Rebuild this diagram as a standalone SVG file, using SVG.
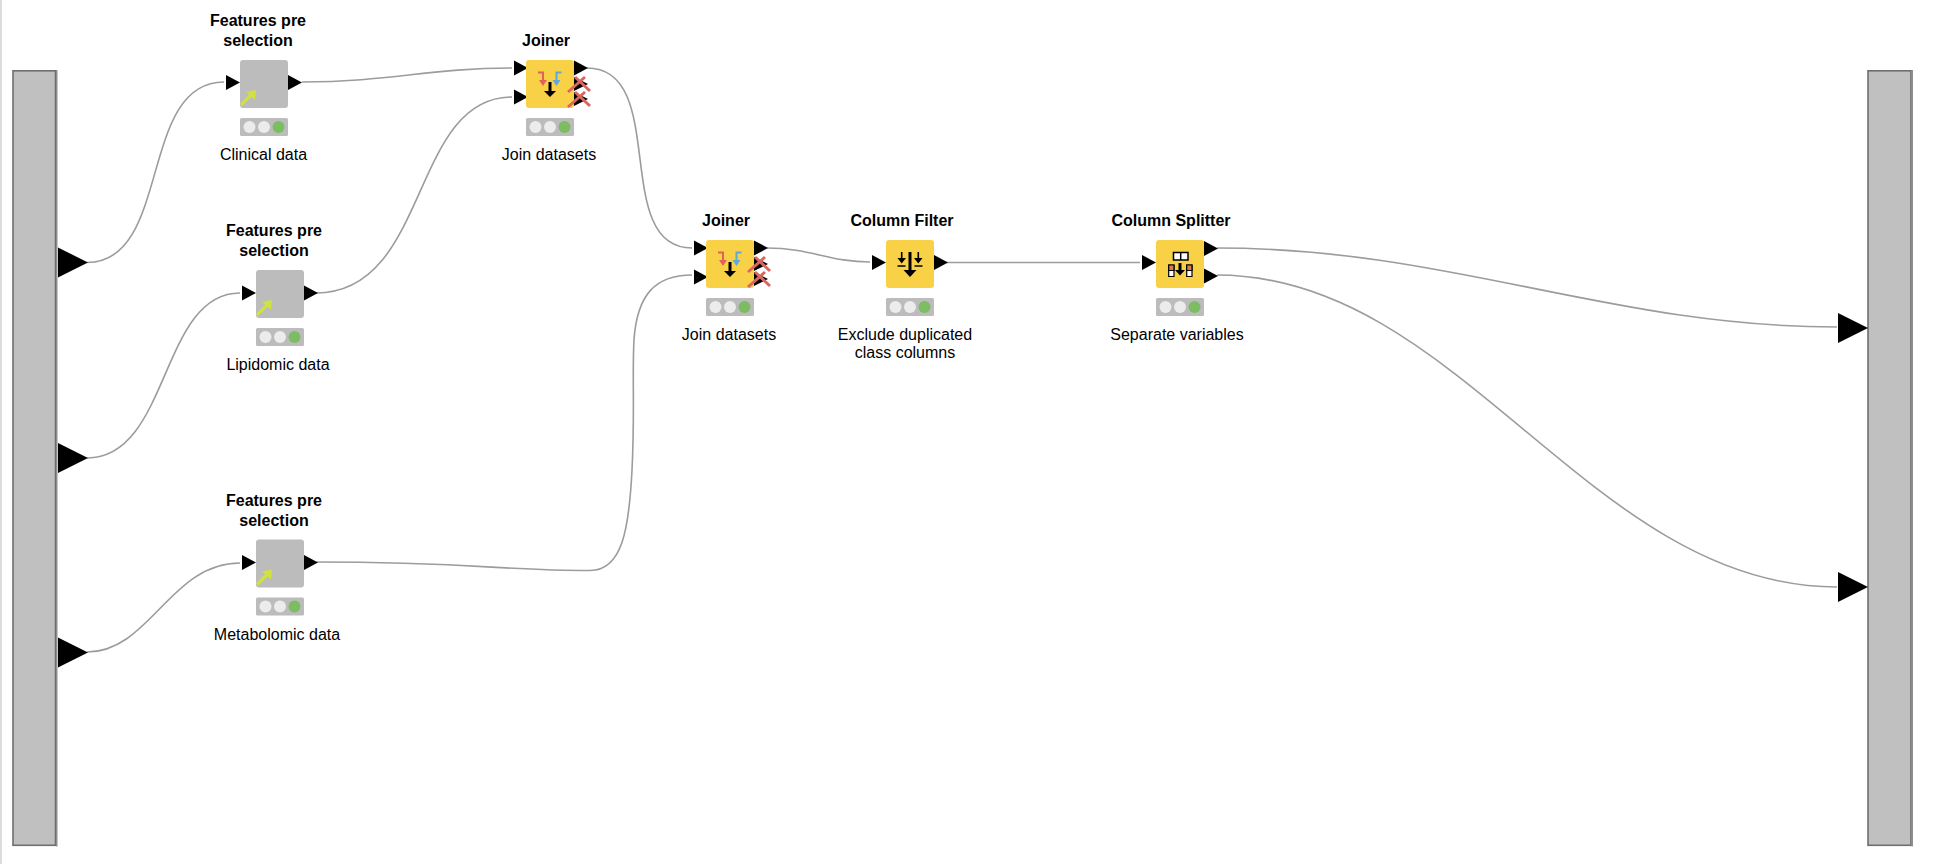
<svg xmlns="http://www.w3.org/2000/svg" width="1940" height="864" viewBox="0 0 1940 864">
<style>
text{font-family:"Liberation Sans",Arial,sans-serif;font-size:16px;fill:#000;text-anchor:middle}
.t{font-weight:bold}
.c{fill:none;stroke:#9c9c9c;stroke-width:1.6}
.y{fill:#f9d146}
.g{fill:#bcbcbc}
.w{fill:#ececec}
.k{fill:#7cbc62}
.bar{fill:#c0c0c0;stroke:#6e6e6e;stroke-width:1.6}
.ar{fill:none;stroke:#cfe23f;stroke-width:3.2}
.x{fill:none;stroke:#d9675f;stroke-width:3}
.r{fill:none;stroke:#e0635a;stroke-width:2}
.b{fill:none;stroke:#62a8d6;stroke-width:2}
.bk{fill:none;stroke:#000;stroke-width:3}
.bt{fill:none;stroke:#000;stroke-width:1.6}
</style>
<defs>
<g id="light"><rect class="g" width="48" height="18" rx="1.500"/><circle class="w" cx="9.500" cy="9" r="6"/><circle class="w" cx="24" cy="9" r="6"/><circle class="k" cx="38.500" cy="9" r="6"/></g>
<g id="meta"><rect class="g" width="48" height="48" rx="3"/><path class="ar" d="M1 45L14 32"/><path d="M6 32L16 30L15 40Z" fill="#cfe23f"/></g>
<g id="joinicon"><path class="r" d="M12 12.500H17V21"/><path d="M13 20H21L17 26Z" fill="#e0635a"/><path class="b" d="M35.500 12.500H30.500V21"/><path d="M26.500 20H34.500L30.500 26Z" fill="#62a8d6"/><path class="bk" d="M24 22V32"/><path d="M18 31H30L24 37Z"/></g>
<g id="xx"><path d="M0 -7L14 0L0 7Z"/><path class="x" d="M-6 8L11 -7M1 -7L16 7"/></g>
<path id="tri" d="M0 -7.500L14 0L0 7.500Z"/>
<path id="big" d="M0 -15L30 0L0 15Z"/>
</defs>
<rect width="1940" height="864" fill="#fff"/>
<rect width="2" height="864" fill="#dcdcdc"/>
<g id="connectors">
<path class="c" d="M87 262.500C172 262.500 138 82 224 82"/>
<path class="c" d="M87 458C170 458 160 293 240 293"/>
<path class="c" d="M87 652C150 652 170 563 240 563"/>
<path class="c" d="M302 82C390 82 430 68 512 68"/>
<path class="c" d="M316 293C430 293 410 97 512 97"/>
<path class="c" d="M587 68C670 68 610 248 692 248"/>
<path class="c" d="M316 562C470 562 500 570.500 590 570.500C622 570.500 629 530 632 470C635 410 632 375 634 340C637 295 655 275 692 275"/>
<path class="c" d="M767 248C810 248 830 262 870 262"/>
<path class="c" d="M946 262.500H1140"/>
<path class="c" d="M1217 248C1450 248 1610 327 1837 327"/>
<path class="c" d="M1217 275C1460 275 1590 587 1837 587"/>
</g>
<g id="bar-left"><rect class="bar" x="13" y="70.800" width="42.500" height="774.500"/><rect x="56" y="70" width="1.500" height="776.500" fill="#8e8e8e"/><use href="#big" x="58" y="262.500"/><use href="#big" x="58" y="458"/><use href="#big" x="58" y="652.500"/></g>
<g id="bar-right"><rect class="bar" x="1868" y="70.800" width="43" height="774.500"/><rect x="1911.500" y="70" width="1.500" height="776.500" fill="#8e8e8e"/><use href="#big" x="1838" y="328"/><use href="#big" x="1838" y="587"/></g>
<g id="n1"><text class="t" x="258" y="26">Features pre</text><text class="t" x="258" y="46">selection</text><use href="#tri" x="226" y="82.500"/><use href="#meta" x="240" y="60"/><use href="#tri" x="288" y="82.500"/><use href="#light" x="240" y="118"/><text x="263.500" y="160">Clinical data</text></g>
<g id="n2"><text class="t" x="274" y="236">Features pre</text><text class="t" x="274" y="256">selection</text><use href="#tri" x="242" y="293"/><use href="#meta" x="256" y="270"/><use href="#tri" x="304" y="293"/><use href="#light" x="256" y="328"/><text x="278" y="369.500">Lipidomic data</text></g>
<g id="n3"><text class="t" x="274" y="505.500">Features pre</text><text class="t" x="274" y="525.500">selection</text><use href="#tri" x="242" y="562.500"/><use href="#meta" x="256" y="539.500"/><use href="#tri" x="304" y="562.500"/><use href="#light" x="256" y="597.500"/><text x="277" y="639.500">Metabolomic data</text></g>
<g id="n4"><text class="t" x="546" y="46">Joiner</text><use href="#tri" x="514" y="68"/><use href="#tri" x="514" y="97"/><rect class="y" x="526" y="60" width="48" height="48" rx="3"/><use href="#joinicon" x="526" y="60"/><use href="#tri" x="574" y="68"/><use href="#xx" x="574" y="84"/><use href="#xx" x="574" y="99"/><use href="#light" x="526" y="118"/><text x="549" y="160">Join datasets</text></g>
<g id="n5"><text class="t" x="726" y="226">Joiner</text><use href="#tri" x="694" y="248"/><use href="#tri" x="694" y="277"/><rect class="y" x="706" y="240" width="48" height="48" rx="3"/><use href="#joinicon" x="706" y="240"/><use href="#tri" x="754" y="248"/><use href="#xx" x="754" y="264"/><use href="#xx" x="754" y="279"/><use href="#light" x="706" y="298"/><text x="729" y="340">Join datasets</text></g>
<g id="n6"><text class="t" x="902" y="226">Column Filter</text><use href="#tri" x="872" y="262.500"/><rect class="y" x="886" y="240" width="48" height="48" rx="3"/><path class="bk" d="M910 252V271"/><path d="M903.500 270H916.500L910 277Z"/><path class="bt" d="M901.700 252V259M918.300 252V259M897.500 266H905.500M914.500 266H922.500"/><path d="M897.500 258H906L901.700 263.500ZM914 258H922.500L918.300 263.500Z"/><use href="#tri" x="934" y="262.500"/><use href="#light" x="886" y="298"/><text x="905" y="340">Exclude duplicated</text><text x="905" y="358">class columns</text></g>
<g id="n7"><text class="t" x="1171" y="226">Column Splitter</text><use href="#tri" x="1142" y="262.500"/><rect class="y" x="1156" y="240" width="48" height="48" rx="3"/><path d="M1173.500 252.500H1188V260H1173.500Z" fill="#fff" stroke="#000" stroke-width="1.500"/><path d="M1180.700 252.500V260" stroke="#000" stroke-width="1.500"/><path d="M1168.700 265H1174V276.500H1168.700Z" fill="#fff" stroke="#000" stroke-width="1.200"/><path d="M1168.700 265H1174V270.500H1168.700Z" fill="#d9804a" stroke="#000" stroke-width="1.200"/><path d="M1186.700 265H1192V276.500H1186.700Z" fill="#fff" stroke="#000" stroke-width="1.200"/><path d="M1186.700 265H1192V270.500H1186.700Z" fill="#d9804a" stroke="#000" stroke-width="1.200"/><path class="bk" d="M1180 263V271"/><path d="M1175 270H1185L1180 275.500Z"/><use href="#tri" x="1204" y="248.500"/><use href="#tri" x="1204" y="276"/><use href="#light" x="1156" y="298"/><text x="1177" y="340">Separate variables</text></g>
</svg>
